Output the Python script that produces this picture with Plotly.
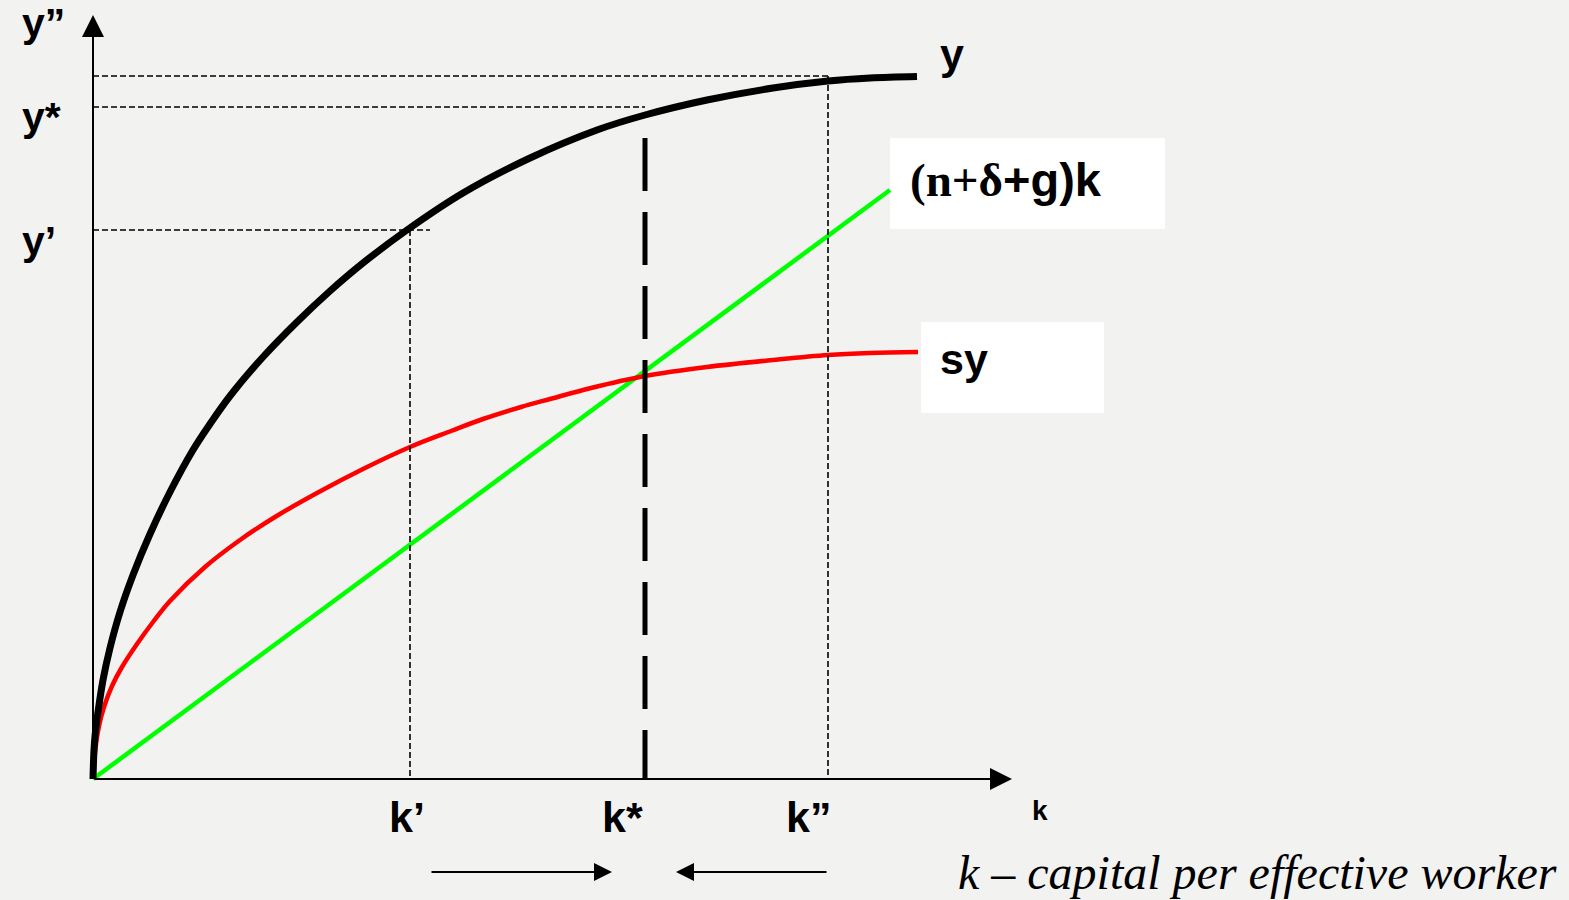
import plotly.graph_objects as go

# ---- data (k = capital per effective worker, arbitrary units) ----
y_k = [0, 0.01, 0.025, 0.05, 0.10, 0.17, 0.27, 0.40, 0.57, 0.77, 1.00, 1.17, 1.37, 1.70,
       2.04, 2.37, 2.70, 3.14, 3.70, 4.37, 5.04, 5.52, 6.14, 6.80, 7.35, 7.77, 8.24]
y_vals = [0, 0.29, 0.48, 0.67, 0.99, 1.31, 1.67, 2.04, 2.45, 2.87, 3.29, 3.55, 3.83, 4.22,
          4.57, 4.88, 5.16, 5.49, 5.86, 6.21, 6.49, 6.64, 6.79, 6.91, 6.98, 7.01, 7.025]

sy_k = [0, 0.01, 0.03, 0.06, 0.11, 0.19, 0.29, 0.44, 0.60, 0.77, 1.12, 1.47, 1.82, 2.24,
        2.70, 3.17, 3.58, 3.90, 4.28, 4.57, 4.98, 5.52, 6.14, 6.80, 7.35, 7.77, 8.25]
sy_vals = [0, 0.15, 0.35, 0.53, 0.72, 0.93, 1.12, 1.35, 1.57, 1.78, 2.12, 2.39, 2.62, 2.86,
           3.10, 3.32, 3.48, 3.60, 3.72, 3.80, 3.91, 4.03, 4.12, 4.19, 4.24, 4.26, 4.27]

dep_k = [0, 7.97]
dep_vals = [0, 5.89]

k_prime, k_star, k_dprime = 3.17, 5.52, 7.35
y_prime, y_star, y_dprime = 5.49, 6.72, 7.03
k_axis_max, y_axis_max = 9.19, 7.64

BG = "#f2f2f1"
SANS = "Arial, Liberation Sans, sans-serif"
SERIF = "Times New Roman, Liberation Serif, serif"

fig = go.Figure()

# white label boxes
fig.add_shape(type="rect", x0=7.97, x1=10.72, y0=5.50, y1=6.41,
              fillcolor="white", line_width=0, layer="below")
fig.add_shape(type="rect", x0=8.28, x1=10.11, y0=3.66, y1=4.57,
              fillcolor="white", line_width=0, layer="below")

# dashed guide lines
thin = dict(color="black", width=1.6, dash="6px,3px")
fig.add_shape(type="line", x0=0, x1=k_dprime, y0=y_dprime, y1=y_dprime, line=thin)
fig.add_shape(type="line", x0=0, x1=k_star, y0=y_star, y1=y_star, line=thin)
fig.add_shape(type="line", x0=0, x1=k_prime + 0.2, y0=y_prime, y1=y_prime, line=thin)
fig.add_shape(type="line", x0=k_prime, x1=k_prime, y0=y_prime, y1=0, line=thin)
fig.add_shape(type="line", x0=k_dprime, x1=k_dprime, y0=y_dprime, y1=0, line=thin)
fig.add_shape(type="line", x0=k_star, x1=k_star, y0=6.41, y1=0,
              line=dict(color="black", width=5, dash="53px,21px"))

# curves
fig.add_trace(go.Scatter(x=dep_k, y=dep_vals, mode="lines",
                         line=dict(color="#00ff00", width=4.5), hoverinfo="skip"))
fig.add_trace(go.Scatter(x=sy_k, y=sy_vals, mode="lines",
                         line=dict(color="#ff0000", width=4.5, shape="spline", smoothing=1.0),
                         hoverinfo="skip"))
fig.add_trace(go.Scatter(x=y_k, y=y_vals, mode="lines",
                         line=dict(color="black", width=7, shape="spline", smoothing=1.0),
                         hoverinfo="skip"))

# axes with arrows
axis_arrow = dict(xref="x", yref="y", axref="x", ayref="y", showarrow=True,
                  arrowhead=2, arrowsize=2.2, arrowwidth=2, arrowcolor="black", text="")
fig.add_annotation(x=0, y=y_axis_max, ax=0, ay=0, **axis_arrow)
fig.add_annotation(x=k_axis_max, y=0, ax=0, ay=0, **axis_arrow)

# convergence arrows
conv_arrow = dict(xref="x", yref="y", axref="x", ayref="y", showarrow=True,
                  arrowhead=2, arrowsize=2.0, arrowwidth=1.8, arrowcolor="black", text="")
fig.add_annotation(x=5.19, y=-0.93, ax=3.37, ay=-0.93, **conv_arrow)
fig.add_annotation(x=5.83, y=-0.93, ax=k_dprime, ay=-0.93, **conv_arrow)

def label(text, x, y, size=43, xanchor="left", family=SANS):
    fig.add_annotation(x=x, y=y, xref="x", yref="y", text=text, showarrow=False,
                       xanchor=xanchor, yanchor="middle",
                       font=dict(family=family, size=size, color="black"))

label("<b>y”</b>", -0.73, 7.56, size=41)
label("<b>y*</b>", -0.73, 6.62, size=41)
label("<b>y’</b>", -0.73, 5.38, size=41)
label("<b>y</b>", 8.45, 7.25)
label("<b><span style='font-family:Times New Roman, Liberation Serif, serif'>(n+δ</span>+g)k</b>",
      8.15, 6.0, size=47)
label("<b>sy</b>", 8.45, 4.2)
label("<b>k’</b>", k_prime - 0.03, -0.38, xanchor="center")
label("<b>k*</b>", k_star - 0.23, -0.38, xanchor="center")
label("<b>k”</b>", k_dprime - 0.2, -0.38, xanchor="center")
label("<b>k</b>", 9.47, -0.31, size=28, xanchor="center")
label("<i>k – capital per effective worker</i>", 14.66, -0.93, size=48,
      xanchor="right", family=SERIF)

fig.update_xaxes(range=[-0.93, 14.76], visible=False, fixedrange=True)
fig.update_yaxes(range=[-1.21, 7.79], visible=False, fixedrange=True)
fig.update_layout(width=1569, height=900, margin=dict(l=0, r=0, t=0, b=0),
                  paper_bgcolor=BG, plot_bgcolor=BG, showlegend=False)

fig.write_html(
    "out.html",
    config={"displayModeBar": False},
    post_script="document.body.style.margin='0';document.body.style.overflow='hidden';"
                "document.body.style.background='#f2f2f1';",
)
